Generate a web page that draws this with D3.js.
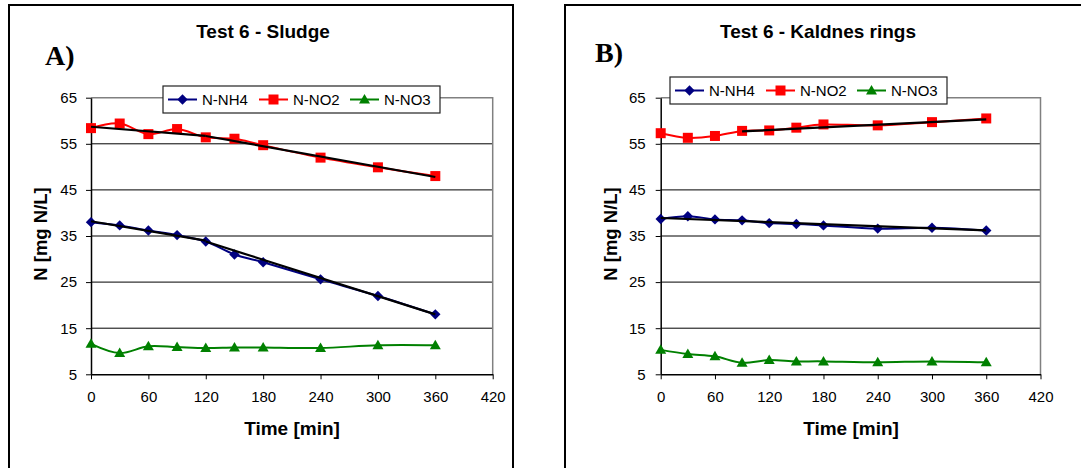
<!DOCTYPE html>
<html><head><meta charset="utf-8">
<script src="https://cdn.jsdelivr.net/npm/d3@7"></script>
<style>body{margin:0;background:#fff}svg{display:block}</style>
</head><body>
<svg id="c" width="1081" height="468"></svg>
<script>
const times = [0, 30, 60, 90, 120, 150, 180, 240, 300, 360];
const xTicks = [0, 60, 120, 180, 240, 300, 360, 420];
const yTicks = [5, 15, 25, 35, 45, 55, 65];
const seriesNames = ["N-NH4", "N-NO2", "N-NO3"];
const seriesColors = ["#000080", "#ff0000", "#008000"];

const sludgeNH4 = [38.0, 37.3, 36.2, 35.2, 33.8, 31.0, 29.3, 25.6, 22.0, 18.0];
const sludgeNO2 = [58.4, 59.4, 57.1, 58.2, 56.4, 56.1, 54.7, 52.0, 49.9, 48.0];
const sludgeNO3 = [11.6, 9.6, 11.1, 10.9, 10.7, 10.8, 10.8, 10.7, 11.3, 11.3];
// trend segments: [[t0, v0], [t1, v1]]
const sludgeTrends = [
  [[0, 38.2], [120, 34.0]],
  [[120, 33.8], [360, 18.0]],
  [[0, 58.7], [120, 56.7]],
  [[120, 56.7], [360, 47.8]]
];

const ringsNH4 = [38.7, 39.3, 38.6, 38.4, 37.8, 37.6, 37.3, 36.6, 36.8, 36.2];
const ringsNO2 = [57.3, 56.3, 56.7, 57.8, 57.9, 58.5, 59.2, 59.0, 59.7, 60.5];
const ringsNO3 = [10.3, 9.4, 8.9, 7.5, 8.1, 7.8, 7.8, 7.6, 7.8, 7.6];
const ringsTrends = [
  [[0, 38.9], [360, 36.2]],
  [[90, 57.7], [360, 60.3]]
];

const svg = d3.select("#c");
const font = "Liberation Sans, Arial, sans-serif";

// panel frames
svg.append("rect").attr("x", 9).attr("y", 5).attr("width", 504).attr("height", 480)
  .attr("fill", "none").attr("stroke", "#000").attr("stroke-width", 2);
svg.append("rect").attr("x", 565).attr("y", 5).attr("width", 530).attr("height", 480)
  .attr("fill", "none").attr("stroke", "#000").attr("stroke-width", 2);

// marker paths (centered at 0,0)
const markerPaths = [
  "M0,-5.2L5.2,0L0,5.2L-5.2,0Z",
  "M-5,-5H5V5H-5Z",
  "M0,-5.5L5.5,4L-5.5,4Z"
];

function panel(cfg) {
  const x = d3.scaleLinear().domain([0, 420]).range([cfg.x0, cfg.x1]);
  const y = d3.scaleLinear().domain([5, 65]).range([374.3, 97.7]);
  const g = svg.append("g");

  // grid
  g.selectAll(null).data(yTicks.filter(v => v > 5 && v < 65)).enter().append("line")
    .attr("x1", x(0)).attr("x2", x(420)).attr("y1", d => y(d)).attr("y2", d => y(d))
    .attr("stroke", "#000").attr("stroke-width", 1);
  // plot border top/right gray
  g.append("path").attr("d", `M${x(0)},${y(65)}H${x(420)}V${y(5)}`)
    .attr("fill", "none").attr("stroke", "#808080").attr("stroke-width", 1.5);

  // axes
  const ya = g.append("g").attr("transform", `translate(${x(0)},0)`)
    .call(d3.axisLeft(y).tickValues(yTicks).tickSize(5).tickPadding(cfg.yPad).tickSizeOuter(0));
  const xa = g.append("g").attr("transform", `translate(0,${y(5)})`)
    .call(d3.axisBottom(x).tickValues(xTicks).tickSize(5).tickPadding(12).tickSizeOuter(0));
  [ya, xa].forEach(a => {
    a.select(".domain").attr("stroke", "#000").attr("stroke-width", 1.5);
    a.selectAll(".tick line").attr("stroke", "#000");
    a.selectAll("text").attr("font-family", font).attr("font-size", 15).attr("fill", "#000");
  });

  const line = d3.line().x((d, i) => x(times[i])).y(d => y(d)).curve(d3.curveCatmullRom.alpha(0));
  const series = [cfg.nh4, cfg.no2, cfg.no3];
  series.forEach((s, k) => {
    g.append("path").attr("d", line(s)).attr("fill", "none")
      .attr("stroke", seriesColors[k]).attr("stroke-width", 2);
  });
  // markers
  series.forEach((s, k) => {
    g.selectAll(null).data(s).enter().append("path")
      .attr("d", markerPaths[k])
      .attr("transform", (d, i) => `translate(${x(times[i])},${y(d)})`)
      .attr("fill", seriesColors[k]);
  });
  // trend lines
  const tl = d3.line().x(d => x(d[0])).y(d => y(d[1]));
  cfg.trends.forEach(t => {
    g.append("path").attr("d", tl(t)).attr("fill", "none").attr("stroke", "#000").attr("stroke-width", 2.2);
  });

  // titles
  g.append("text").attr("x", cfg.titleX).attr("y", 38).attr("text-anchor", "middle")
    .attr("font-family", font).attr("font-weight", "bold").attr("font-size", 19).text(cfg.title);
  g.append("text").attr("x", cfg.letterX).attr("y", cfg.letterY)
    .attr("font-family", "Liberation Serif, Times New Roman, serif").attr("font-weight", "bold")
    .attr("font-size", 28).text(cfg.letter);
  g.append("text").attr("transform", `translate(${cfg.yLabX},234) rotate(-90)`).attr("text-anchor", "middle")
    .attr("font-family", font).attr("font-weight", "bold").attr("font-size", 18.5).text("N [mg N/L]");
  g.append("text").attr("x", cfg.xLabX).attr("y", 434.5).attr("text-anchor", "middle")
    .attr("font-family", font).attr("font-weight", "bold").attr("font-size", 19).text("Time [min]");

  // legend
  const lx = cfg.legX, ly = cfg.legY;
  g.append("rect").attr("x", lx).attr("y", ly).attr("width", 277).attr("height", 27)
    .attr("fill", "#fff").attr("stroke", "#222").attr("stroke-width", 1.2);
  const offs = [5, 96, 187];
  seriesNames.forEach((n, k) => {
    const sx = lx + offs[k];
    const cy = ly + 13.5;
    g.append("line").attr("x1", sx).attr("x2", sx + 29).attr("y1", cy).attr("y2", cy)
      .attr("stroke", seriesColors[k]).attr("stroke-width", 2);
    g.append("path").attr("d", markerPaths[k])
      .attr("transform", `translate(${sx + 14.5},${cy})`).attr("fill", seriesColors[k]);
    g.append("text").attr("x", sx + 34).attr("y", cy + 5.3).attr("font-family", font)
      .attr("font-size", 15).text(n);
  });
}

panel({x0: 91, x1: 492.7, nh4: sludgeNH4, no2: sludgeNO2, no3: sludgeNO3,
  trends: sludgeTrends, title: "Test 6 - Sludge", titleX: 263, yPad: 9,
  letter: "A)", letterX: 45, letterY: 65, yLabX: 47, xLabX: 292, legX: 163, legY: 86});
panel({x0: 660.7, x1: 1040.5, nh4: ringsNH4, no2: ringsNO2, no3: ringsNO3,
  trends: ringsTrends, title: "Test 6 - Kaldnes rings", titleX: 818, yPad: 10,
  letter: "B)", letterX: 595, letterY: 62, yLabX: 617, xLabX: 851, legX: 670, legY: 77});
</script>
</body></html>
